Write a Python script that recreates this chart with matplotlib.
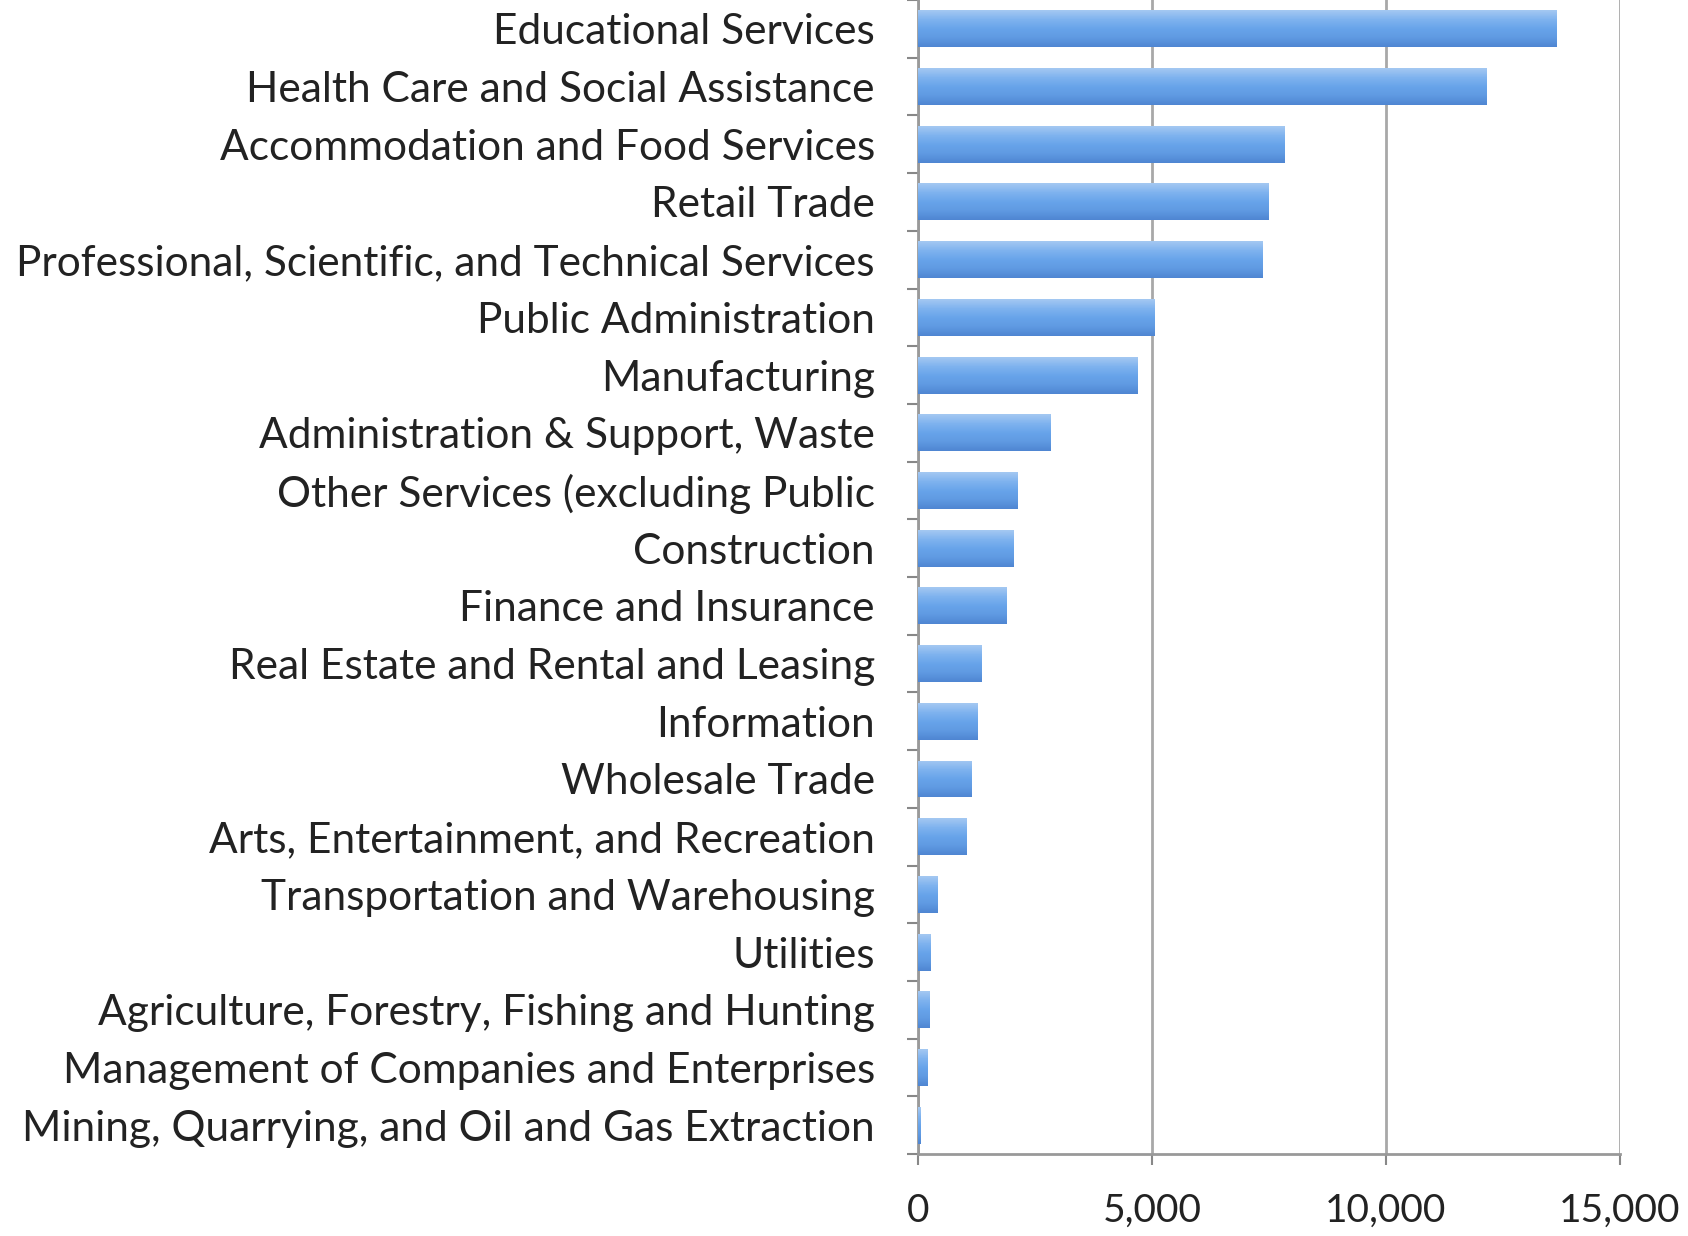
import numpy as np
import matplotlib.pyplot as plt
from matplotlib.colors import LinearSegmentedColormap
from matplotlib.ticker import FuncFormatter, FixedLocator

industries = [
    "Educational Services",
    "Health Care and Social Assistance",
    "Accommodation and Food Services",
    "Retail Trade",
    "Professional, Scientific, and Technical Services",
    "Public Administration",
    "Manufacturing",
    "Administration & Support, Waste",
    "Other Services (excluding Public",
    "Construction",
    "Finance and Insurance",
    "Real Estate and Rental and Leasing",
    "Information",
    "Wholesale Trade",
    "Arts, Entertainment, and Recreation",
    "Transportation and Warehousing",
    "Utilities",
    "Agriculture, Forestry, Fishing and Hunting",
    "Management of Companies and Enterprises",
    "Mining, Quarrying, and Oil and Gas Extraction",
]
counts = [13640, 12140, 7830, 7490, 7370, 5050, 4680, 2830, 2120, 2050,
          1890, 1360, 1270, 1150, 1040, 415, 276, 253, 207, 60]
x_ticks = [0, 5000, 10000, 15000]

plt.rcParams['font.family'] = ['Lato', 'DejaVu Sans']

fig = plt.figure(figsize=(16.88, 12.36), dpi=100)
ax = fig.add_axes([0.5438, 0.0663, 0.4159, 0.9337])

y = np.arange(len(industries))
bars = ax.barh(y, counts, height=0.64, color="#6aa5ea", linewidth=0, zorder=3)

# excel-ish vertical gradient inside each bar
grad_cmap = LinearSegmentedColormap.from_list(
    "bar", ["#a4c8f2", "#7fb3ef", "#68a4ea", "#5f9ae2", "#4f86d2"])
grad = np.linspace(0, 1, 64).reshape(-1, 1)
for b in bars:
    x0, y0 = b.get_x(), b.get_y()
    w, h = b.get_width(), b.get_height()
    im = ax.imshow(grad, cmap=grad_cmap, aspect="auto", zorder=3.5,
                   extent=(x0, x0 + w, y0, y0 + h), origin="lower",
                   interpolation="bilinear")
    im.set_clip_path(b)

ax.set_ylim(len(industries) - 0.5, -0.5)
ax.set_xlim(0, 15000)
ax.set_yticks(y)
ax.set_yticklabels(industries, fontsize=30.5, color="#222222")
ax.yaxis.set_minor_locator(FixedLocator(np.arange(len(industries) + 1) - 0.5))
ax.tick_params(axis="y", which="major", length=0, pad=31)
ax.tick_params(axis="y", which="minor", length=8, width=1.5, color="#888888")

ax.xaxis.set_major_locator(FixedLocator(x_ticks))
ax.xaxis.set_major_formatter(FuncFormatter(lambda v, _: f"{int(v):,}"))
ax.tick_params(axis="x", length=8, width=1.5, color="#888888", pad=20,
               labelsize=28, labelcolor="#222222")

ax.grid(axis="x", color="#a8a8a8", linewidth=2, zorder=0)
for s in ("top", "right"):
    ax.spines[s].set_visible(False)
for s in ("left", "bottom"):
    ax.spines[s].set_color("#999999")
    ax.spines[s].set_linewidth(2)

fig.savefig("out.png", dpi=100)
